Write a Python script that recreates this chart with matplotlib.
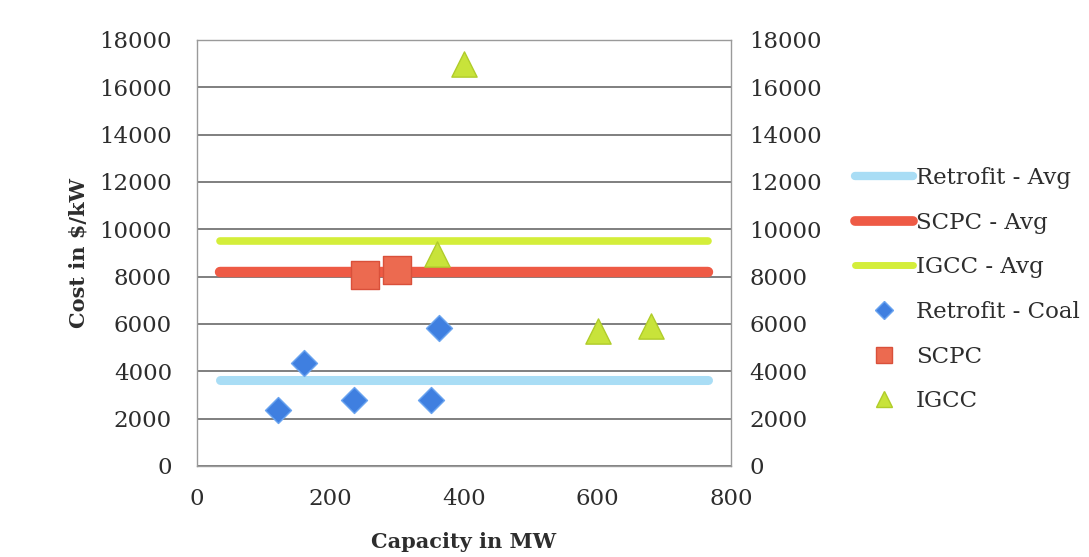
import matplotlib
matplotlib.use("Agg")
import matplotlib.pyplot as plt
from matplotlib.lines import Line2D

# Capacity (MW) and cost ($/kW) observations
retrofit_mw = [121, 160, 235, 350, 362]
retrofit_cost = [2350, 4350, 2800, 2800, 5830]
scpc_mw = [252, 300]
scpc_cost = [8050, 8300]
igcc_mw = [400, 359, 600, 680]
igcc_cost = [17000, 8950, 5700, 5900]

# Category averages drawn as horizontal bands
avg_span = [35, 765]
retrofit_avg = 3650
scpc_avg = 8200
igcc_avg = 9500

yticks = list(range(0, 18001, 2000))
xticks = [0, 200, 400, 600, 800]

plt.rcParams['font.family'] = ['DejaVu Serif']
txt = '#2d2d2d'

fig = plt.figure(figsize=(10.89, 5.57), dpi=100)
ax = fig.add_axes([197/1089, 1-466/557, 534/1089, 426/557])

c_ret_avg = '#a9ddf5'
c_scpc_avg = '#ee5a45'
c_igcc_avg = '#d4ee3a'

ax.plot(avg_span, [retrofit_avg]*2, color=c_ret_avg, lw=6.5, solid_capstyle='round', zorder=3)
ax.plot(avg_span, [scpc_avg]*2, color=c_scpc_avg, lw=7.5, solid_capstyle='round', zorder=3)
ax.plot(avg_span, [igcc_avg]*2, color=c_igcc_avg, lw=5.5, solid_capstyle='round', zorder=3)

ax.scatter(retrofit_mw, retrofit_cost, marker='D', s=175, color='#3f7fe0',
           edgecolor='#6aa4f0', linewidth=1, zorder=4)
ax.scatter(scpc_mw, scpc_cost, marker='s', s=420, color='#ec6a50',
           edgecolor='#d9503a', linewidth=1, zorder=4)
ax.scatter(igcc_mw, igcc_cost, marker='^', s=330, color='#c8e33a',
           edgecolor='#b0cc2a', linewidth=1, zorder=4)

ax.set_xlim(0, 800)
ax.set_ylim(0, 18000)
ax.set_xticks(xticks)
ax.set_yticks(yticks)
ax.grid(axis='y', color='#6a6a6a', lw=1.2, zorder=1)
for s in ax.spines.values():
    s.set_color('#9a9a9a')
    s.set_linewidth(1)
ax.tick_params(length=0, labelsize=16.5, colors=txt)
ax.tick_params(axis='y', pad=18)
ax.tick_params(axis='x', pad=16)
ax.set_xlabel('Capacity in MW', fontsize=15, fontweight='bold', color=txt, labelpad=16)
ax.set_ylabel('Cost in $/kW', fontsize=15, fontweight='bold', color=txt, labelpad=8)

ax2 = ax.twinx()
ax2.set_ylim(0, 18000)
ax2.set_yticks(yticks)
ax2.tick_params(length=0, labelsize=16.5, colors=txt, pad=13)
for s in ax2.spines.values():
    s.set_visible(False)

handles = [
    Line2D([], [], color=c_ret_avg, lw=6, solid_capstyle='round'),
    Line2D([], [], color=c_scpc_avg, lw=7, solid_capstyle='round'),
    Line2D([], [], color=c_igcc_avg, lw=5, solid_capstyle='round'),
    Line2D([], [], ls='none', marker='D', ms=9, color='#3f7fe0', mec='#6aa4f0'),
    Line2D([], [], ls='none', marker='s', ms=12, color='#ec6a50', mec='#d9503a'),
    Line2D([], [], ls='none', marker='^', ms=12, color='#c8e33a', mec='#b0cc2a'),
]
labels = ['Retrofit - Avg', 'SCPC - Avg', 'IGCC - Avg', 'Retrofit - Coal', 'SCPC', 'IGCC']
leg = fig.legend(handles, labels, loc='upper left', bbox_to_anchor=(855/1089, 1-167/557),
                 frameon=False, fontsize=16.5, handlelength=2.55, handletextpad=0.12,
                 labelspacing=0.99, borderaxespad=0, borderpad=0)
for t in leg.get_texts():
    t.set_color(txt)

fig.savefig('out.png', dpi=100)
